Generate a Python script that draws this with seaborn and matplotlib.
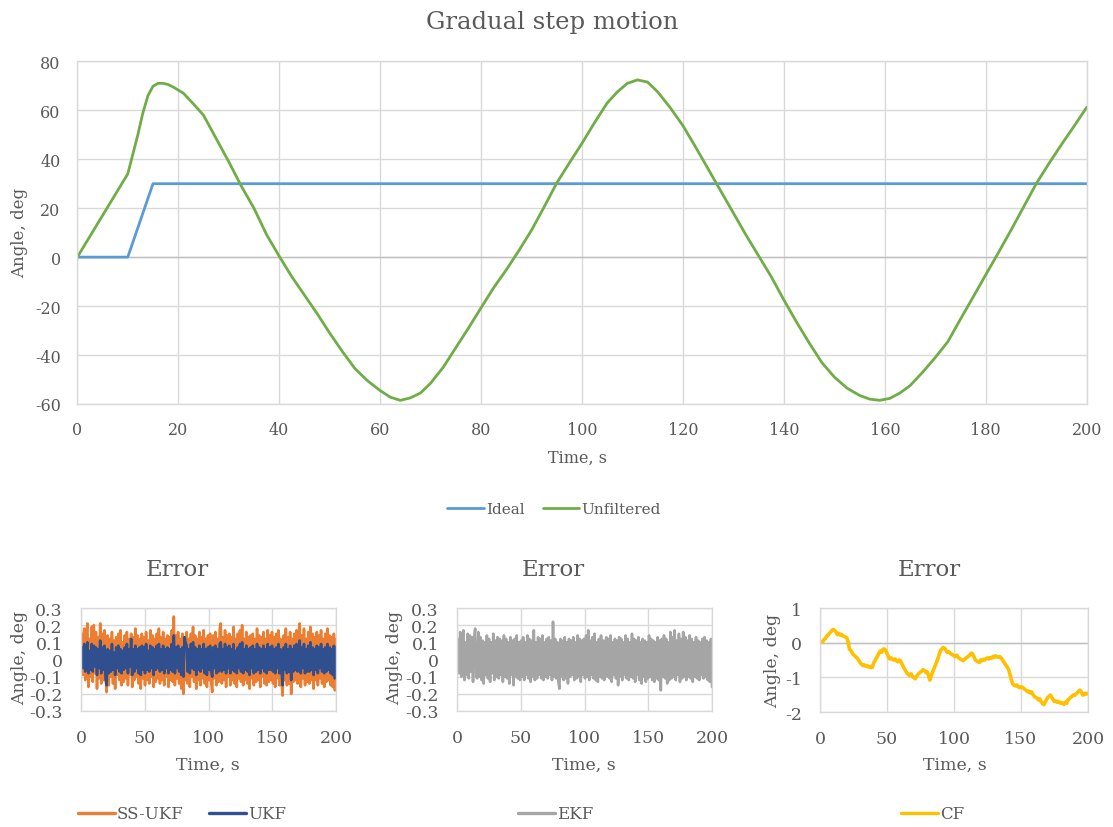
import numpy as np
import pandas as pd
import matplotlib
matplotlib.use("Agg")
import matplotlib.pyplot as plt
import seaborn as sns
from matplotlib.ticker import FuncFormatter
from matplotlib.lines import Line2D

# ---------------- data ----------------
ideal_t = [0, 10, 15, 200]
ideal_v = [0, 0, 30, 30]

unf_t = [0, 10, 11, 12, 13, 14, 15, 16, 17, 18, 19, 21, 23, 25, 27.5, 30, 32.5, 35, 37.5, 40,
         42.5, 45, 47.5, 50, 52.5, 55, 57.5, 60, 62, 64, 66, 68, 70, 72.5, 75, 77.5, 80,
         82.5, 85, 87.5, 90, 92.5, 95, 97.5, 100, 102.5, 105, 107, 109, 111, 113, 115,
         117.5, 120, 122.5, 125, 127.5, 130, 132.5, 135, 137.5, 140, 142.5, 145, 147.5,
         150, 152.5, 155, 157, 159, 161, 163, 165, 167.5, 170, 172.5, 175, 177.5, 180,
         182.5, 185, 187.5, 190, 192.5, 195, 197.5, 200]
unf_v = [0, 34, 42, 50, 59, 66, 69.8, 71, 71, 70.5, 69.5, 67, 62.6, 58, 48.5, 39, 29, 20, 9.2, 0.4,
         -8, -15.5, -23, -31, -38.5, -45.5, -50.5, -54.5, -57.2, -58.5, -57.5, -55.5, -51.5, -45, -37, -29, -20.7,
         -12.5, -5.2, 2.7, 11, 20.5, 30.3, 38.5, 46.5, 55, 63, 67.5, 71, 72.4, 71.5, 67.5,
         61, 53.7, 45, 36, 27, 18, 9, 0.5, -8, -17.5, -26.5, -35, -43,
         -49, -53.5, -56.5, -58, -58.5, -57.7, -55.5, -52.5, -47, -41, -34.5, -25.3, -16.3, -7.2,
         1.8, 11, 20.5, 30, 38.2, 46, 53.5, 61.2]

ssukf = [.02,.15,-.09,.18,-.12,.14,.21,-.16,.12,-.10,.19,-.13,.20,-.08,.16,-.17,.13,-.11,.21,-.14,
         .15,-.12,.17,-.09,-.19,.14,-.15,.12,-.10,.16,-.14,.11,-.17,.13,-.09,.15,-.12,.17,-.15,.10,
         -.13,.14,-.11,.16,-.15,.12,-.09,.15,-.16,.13,-.12,.18,-.10,.14,-.14,.12,-.17,.15,-.11,.13,
         -.15,.16,-.12,.11,-.14,.17,-.10,.14,-.16,.12,-.13,.15,-.11,.18,-.14,.13,-.12,.16,-.15,.12,
         -.10,.14,-.16,.13,-.12,.17,-.13,.25,-.15,.14,-.11,.16,-.14,.12,-.17,.15,-.20,.13,-.12,.16,
         -.14,.12,-.16,.15,-.10,.19,-.13,.14,-.17,.12,-.12,.16,-.15,.13,-.11,.17,-.14,.12,-.16,.14,
         -.12,.15,-.13,-.19,.14,-.11,.16,-.15,.12,-.13,.18,.21,-.14,.13,-.12,.17,-.16,.14,-.10,.15,
         -.15,.13,-.12,.19,-.14,.12,-.16,.15,-.11,.17,-.13,.20,-.15,.12,-.12,.16,-.14,.13,-.17,.14,
         -.11,.15,-.15,.12,-.13,.18,-.12,.14,-.16,.13,-.10,.16,-.14,.12,-.15,.17,-.13,.14,-.12,.16,
         -.14,.13,-.16,.15,-.11,.17,-.15,.12,-.13,-.21,.14,-.12,.18,-.15,.13,-.14,.16,-.20,.12,-.13,
         .15,-.12,.17,-.14,.13,.21,-.16,.14,-.11,.18,-.15,.12,-.13,.16,-.14,.19,-.12,.15,-.17,.13,
         -.12,.16,-.15,.14,-.11,.17,-.14,.12,-.16,.15,-.13,.18,-.12,.14,-.15,.13,-.16,.15,-.18,.12]

ukf = [.01,.07,-.05,.09,-.07,.06,.10,-.08,.05,-.06,.09,-.07,.08,-.04,.07,-.09,.06,-.05,.11,-.08,
       .07,-.06,.08,-.11,-.15,.06,-.08,.05,-.07,.09,-.06,.04,-.09,.07,-.05,.08,-.07,.06,-.08,.05,
       -.06,.07,-.05,.09,-.08,.06,-.04,.12,-.09,.06,-.07,.08,-.05,.06,-.08,.07,-.09,.08,-.06,.07,
       -.08,.09,-.06,.05,-.07,.08,-.05,.07,-.09,.06,-.06,.08,-.05,.09,-.07,.06,-.06,.08,-.08,.06,
       -.05,.07,-.08,.06,-.06,.09,-.07,.14,-.08,.07,-.05,.08,-.07,.06,-.09,.07,-.10,.13,.10,.08,
       -.07,.06,-.08,.09,-.05,.10,-.06,.07,-.09,.06,-.06,.08,-.07,.06,-.05,.09,-.08,.06,-.09,.07,
       -.06,.08,-.07,-.10,.07,-.05,.08,-.08,.06,-.07,.09,.10,-.07,.06,-.06,.09,-.08,.07,-.05,.08,
       -.08,.06,-.06,.09,-.07,.05,-.08,.07,-.05,.09,-.07,.10,-.08,.06,-.06,.08,-.07,.06,-.09,.07,
       -.05,.08,-.08,.06,-.07,.09,-.06,.07,-.08,.06,-.05,.08,-.07,.06,-.08,.09,-.06,.07,-.06,.08,
       -.07,.06,-.08,.07,-.05,.09,-.08,.06,-.07,-.15,.07,-.06,.09,-.08,.06,-.07,.08,-.12,.06,-.07,
       .08,-.06,.09,-.07,.06,.11,-.08,.07,-.05,.09,-.08,.06,-.07,.08,-.07,.10,-.06,.07,-.09,.06,
       -.06,.08,-.08,.07,-.05,.09,-.07,.06,-.08,.07,-.07,.09,-.06,.07,-.08,.06,-.09,.08,-.11,.07]

ekf = [.03,.12,-.08,.16,-.10,.11,.17,-.12,.10,-.09,.15,-.11,.14,-.07,.13,-.13,.12,.18,-.10,-.11,
       .16,-.10,.13,-.12,.11,-.14,.10,-.09,.14,-.11,.12,-.13,.10,-.08,.15,-.12,.11,-.10,.13,-.11,
       .12,-.09,.11,-.13,.14,-.10,.12,-.11,.10,-.14,.13,-.09,.11,-.15,.12,-.10,.14,-.11,.10,-.12,
       .11,-.10,.13,-.12,.10,-.09,.14,-.11,.12,-.13,.11,-.10,.17,-.12,.10,-.11,.13,-.09,.12,-.11,
       .14,-.12,.10,-.10,.12,-.11,.13,-.09,.11,-.12,.22,-.10,.12,-.11,.10,-.13,-.17,.12,-.10,.11,
       -.12,.13,-.11,.10,-.14,.12,-.10,.11,-.09,.13,-.12,.10,-.11,.14,-.10,.12,-.13,.11,-.09,.12,
       -.11,.14,-.10,.17,-.12,.11,-.09,.13,-.11,.15,-.12,.10,-.13,.12,-.10,.14,-.11,.11,-.12,.10,
       .13,-.10,.12,-.11,.14,-.13,.10,-.09,.12,-.11,.11,-.15,.13,-.10,.12,-.12,.10,-.09,.14,-.11,
       .12,-.12,.10,-.10,.15,-.11,.12,-.13,.11,-.09,.13,-.12,.10,-.14,.12,-.10,.11,-.13,.10,-.11,
       .14,-.10,.12,-.12,.11,-.13,.10,-.11,.13,-.12,.11,-.18,.12,-.10,.14,-.11,.12,-.14,.10,-.12,
       .16,-.11,.13,-.10,.17,-.12,.11,-.09,.15,-.13,.12,-.11,.16,-.10,.13,-.12,.11,-.10,.14,-.11,
       .12,-.13,.10,-.10,.13,-.11,.11,-.12,.10,-.09,.12,-.11,.13,-.10,.11,-.12,.10,-.13,.12,-.16]

cf = [0, .03, .02, .09, .12, .18, .22, .27, .31, .36, .38,
      .35, .30, .23, .27, .22, .24, .20, .18, .16, .14,
      .02, -.19, -.22, -.30, -.35, -.38, -.42, -.45, -.52, -.58,
      -.62, -.66, -.64, -.68, -.66, -.70, -.69, -.72, -.71, -.60,
      -.52, -.45, -.38, -.30, -.24, -.28, -.19, -.18, -.22, -.32,
      -.40, -.47, -.44, -.48, -.50, -.47, -.52, -.55, -.50, -.52,
      -.60, -.68, -.75, -.82, -.88, -.92, -.95, -.90, -.98, -1.00,
      -1.04, -.98, -.92, -.88, -.85, -.82, -.78, -.80, -.86, -.84,
      -.95, -1.08, -.95, -.85, -.75, -.66, -.57, -.45, -.33, -.22,
      -.18, -.14, -.16, -.22, -.28, -.26, -.30, -.33, -.35, -.38,
      -.40, -.36, -.42, -.45, -.48, -.50, -.52, -.48, -.44, -.42,
      -.38, -.35, -.30, -.33, -.42, -.50, -.53, -.55, -.57, -.50,
      -.52, -.48, -.50, -.46, -.44, -.47, -.43, -.45, -.40, -.42,
      -.38, -.41, -.42, -.40, -.44, -.48, -.55, -.61, -.66, -.72,
      -.80, -.95, -1.10, -1.20, -1.23, -1.25, -1.22, -1.27, -1.30, -1.28,
      -1.28, -1.32, -1.35, -1.38, -1.42, -1.40, -1.45, -1.42, -1.50, -1.55,
      -1.58, -1.60, -1.65, -1.62, -1.70, -1.75, -1.79, -1.72, -1.65, -1.58,
      -1.55, -1.51, -1.58, -1.65, -1.70, -1.68, -1.72, -1.70, -1.74, -1.72,
      -1.75, -1.78, -1.72, -1.75, -1.65, -1.62, -1.58, -1.55, -1.51, -1.52,
      -1.48, -1.45, -1.40, -1.37, -1.42, -1.51, -1.50, -1.46, -1.48, -1.46]

main_xticks = list(range(0, 201, 20))
main_yticks = list(range(-60, 81, 20))
small_xticks = [0, 50, 100, 150, 200]
err_yticks = [-0.3, -0.2, -0.1, 0, 0.1, 0.2, 0.3]
cf_yticks = [-2, -1, 0, 1]

# ---------------- style ----------------
sns.set_theme(style="white")
plt.rcParams["font.family"] = ["DejaVu Serif"]
plt.rcParams["axes.unicode_minus"] = False
TXT = "#595959"
GRID = "#D9D9D9"
C_IDEAL, C_UNF = "#5B9BD5", "#70AD47"
C_SS, C_UKF, C_EKF, C_CF = "#ED7D31", "#2F4F8F", "#A5A5A5", "#FFC000"

W, H = 1113, 828
fig = plt.figure(figsize=(W / 100, H / 100), dpi=100)


def px(x0, y0, x1, y1):
    return [x0 / W, 1 - y1 / H, (x1 - x0) / W, (y1 - y0) / H]


def fmt(v, p):
    s = f"{round(v, 3):g}"
    return "0" if s == "-0" else s


def style_ax(ax, xt, yt, xlim, ylim, fs, pad):
    ax.set_xlim(*xlim)
    ax.set_ylim(*ylim)
    ax.set_xticks(xt)
    ax.set_yticks(yt)
    ax.xaxis.set_major_formatter(FuncFormatter(fmt))
    ax.yaxis.set_major_formatter(FuncFormatter(fmt))
    ax.grid(True, color=GRID, lw=1)
    ax.set_axisbelow(True)
    for s in ax.spines.values():
        s.set_color(GRID)
        s.set_linewidth(1)
    ax.tick_params(length=0, labelsize=fs, labelcolor=TXT, pad=pad)
    ax.set_xlabel("")
    ax.set_ylabel("")
    ax.axhline(0, color="#BFBFBF", lw=1, zorder=1)
    leg = ax.get_legend()
    if leg:
        leg.remove()


# ---------------- main chart ----------------
ax = fig.add_axes(px(77.3, 62.3, 1086.7, 405))
sns.lineplot(x=ideal_t, y=ideal_v, ax=ax, color=C_IDEAL, lw=2, sort=False, estimator=None)
sns.lineplot(x=unf_t, y=unf_v, ax=ax, color=C_UNF, lw=2, sort=False, estimator=None)
style_ax(ax, main_xticks, main_yticks, (0, 200), (-60, 80), 11.5, 12)

fig.text(552 / W, 1 - 22 / H, "Gradual step motion", ha="center", va="center", fontsize=17.5, color=TXT)
fig.text(577 / W, 1 - 458 / H, "Time, s", ha="center", va="center", fontsize=11.5, color=TXT)
fig.text(20 / W, 1 - 233 / H, "Angle, deg", ha="center", va="center", rotation=90, fontsize=12, color=TXT)
fig.legend(handles=[Line2D([], [], color=C_IDEAL, lw=2), Line2D([], [], color=C_UNF, lw=2)],
           labels=["Ideal", "Unfiltered"], loc="center", bbox_to_anchor=(554 / W, 1 - 510 / H),
           ncol=2, frameon=False, fontsize=11, handlelength=2.4, handletextpad=0.15,
           columnspacing=1.2, labelcolor=TXT)

# ---------------- small charts ----------------
n_err = len(ssukf)
t_err = np.linspace(0, 200, n_err)
t_cf = np.linspace(0, 200, len(cf))

ax1 = fig.add_axes(px(81, 609, 336, 712))
sns.lineplot(x=t_err, y=ssukf, ax=ax1, color=C_SS, lw=1.9, sort=False, estimator=None)
sns.lineplot(x=t_err, y=ukf, ax=ax1, color=C_UKF, lw=1.9, sort=False, estimator=None)
style_ax(ax1, small_xticks, err_yticks, (0, 200), (-0.3, 0.3), 12.5, 13)

ax2 = fig.add_axes(px(457, 609, 712, 712))
sns.lineplot(x=t_err, y=ekf, ax=ax2, color=C_EKF, lw=1.9, sort=False, estimator=None)
style_ax(ax2, small_xticks, err_yticks, (0, 200), (-0.3, 0.3), 12.5, 13)

ax3 = fig.add_axes(px(820, 609, 1088, 713))
sns.lineplot(x=t_cf, y=cf, ax=ax3, color=C_CF, lw=2.6, sort=False, estimator=None)
style_ax(ax3, small_xticks, cf_yticks, (0, 200), (-2, 1), 12.5, 13)

for cx, tx, yx, yy in [(177, 208, 20, 658), (553, 584, 395, 658), (929, 955, 773, 661)]:
    fig.text(cx / W, 1 - 570 / H, "Error", ha="center", va="center", fontsize=16.5, color=TXT)
    fig.text(tx / W, 1 - 765 / H, "Time, s", ha="center", va="center", fontsize=12.5, color=TXT)
    fig.text(yx / W, 1 - yy / H, "Angle, deg", ha="center", va="center", rotation=90, fontsize=12.5, color=TXT)

leg_kw = dict(loc="center", frameon=False, fontsize=12, handlelength=2.2, handletextpad=0.15,
              columnspacing=1.5, labelcolor=TXT)
fig.legend(handles=[Line2D([], [], color=C_SS, lw=2.4), Line2D([], [], color=C_UKF, lw=2.4)],
           labels=["SS-UKF", "UKF"], bbox_to_anchor=(182 / W, 1 - 815 / H), ncol=2, **leg_kw)
fig.legend(handles=[Line2D([], [], color=C_EKF, lw=2.4)], labels=["EKF"],
           bbox_to_anchor=(556 / W, 1 - 815 / H), **leg_kw)
fig.legend(handles=[Line2D([], [], color=C_CF, lw=2.4)], labels=["CF"],
           bbox_to_anchor=(933 / W, 1 - 815 / H), **leg_kw)

fig.savefig("out.png", dpi=100, facecolor="white")
